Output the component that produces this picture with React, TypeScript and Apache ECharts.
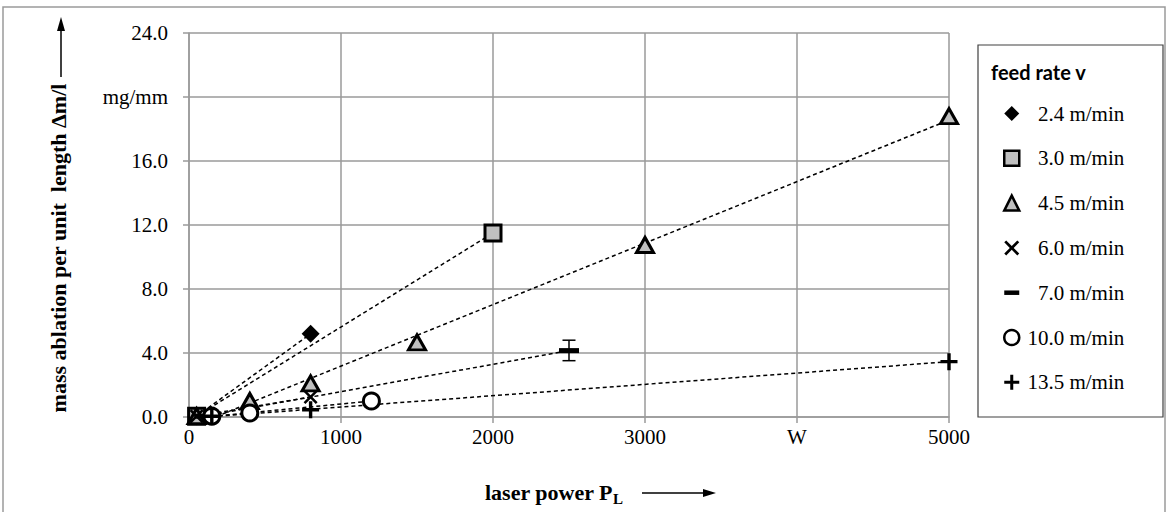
import React, { useEffect, useRef } from "react";
import * as echarts from "echarts";

// ---- data (laser power W, mass ablation mg/mm) ----
const seriesNames = ["2.4 m/min", "3.0 m/min", "4.5 m/min", "6.0 m/min", "7.0 m/min", "10.0 m/min", "13.5 m/min"];
const feed24: number[][] = [[50, 0.05], [800, 5.2]];
const feed30: number[][] = [[50, 0.05], [2000, 11.5]];
const feed45: number[][] = [[50, 0.05], [400, 1.0], [800, 2.1], [1500, 4.66], [3000, 10.75], [5000, 18.8]];
const feed60: number[][] = [[50, 0.05], [800, 1.25]];
const feed70: number[][] = [[100, 0.05], [2500, 4.15]];
const feed100: number[][] = [[150, 0.05], [400, 0.25], [1200, 1.0]];
const feed135: number[][] = [[150, 0.05], [800, 0.45], [5000, 3.46]];
const errorBar70: number[][] = [[2500, 3.52, 4.8]];

const xTickLabels = ["0", "1000", "2000", "3000", "W", "5000"];
const yTickLabels = ["0.0", "4.0", "8.0", "12.0", "16.0", "mg/mm", "24.0"];

const SERIF = "'Liberation Serif', 'Times New Roman', serif";
const GRAY = "#9a9a9a";

function trend(points: number[][]): number[][] {
  const n = points.length;
  let sx = 0, sy = 0, sxx = 0, sxy = 0;
  for (const [x, y] of points) { sx += x; sy += y; sxx += x * x; sxy += x * y; }
  const b = (n * sxy - sx * sy) / (n * sxx - sx * sx);
  const a = (sy - b * sx) / n;
  const xs = points.map((p) => p[0]);
  const x0 = Math.min(...xs), x1 = Math.max(...xs);
  return [[x0, a + b * x0], [x1, a + b * x1]];
}

const X_PATH = "path://M0,1.3L1.3,0L5,3.7L8.7,0L10,1.3L6.3,5L10,8.7L8.7,10L5,6.3L1.3,10L0,8.7L3.7,5Z";
const PLUS_PATH = "path://M4,0H6V4H10V6H6V10H4V6H0V4H4Z";
const DASH_PATH = "path://M0,0H20V6H0Z";

export default function App() {
  const ref = useRef<HTMLDivElement>(null);
  useEffect(() => {
    if (!ref.current) return;
    const chart = echarts.init(ref.current, undefined, { renderer: "svg" });
    const datasets = [feed24, feed30, feed45, feed60, feed70, feed100, feed135];
    const markers: any[] = [
      { symbol: "diamond", symbolSize: 18, itemStyle: { color: "#000", borderWidth: 0, opacity: 1 } },
      { symbol: "rect", symbolSize: 16, itemStyle: { color: "#c0c0c0", borderColor: "#000", borderWidth: 3, opacity: 1 } },
      { symbol: "triangle", symbolSize: [17, 15], itemStyle: { color: "#c0c0c0", borderColor: "#000", borderWidth: 3, opacity: 1 } },
      { symbol: X_PATH, symbolSize: 14, itemStyle: { color: "#000", borderWidth: 0, opacity: 1 } },
      { symbol: DASH_PATH, symbolSize: [20, 5], itemStyle: { color: "#000", borderWidth: 0, opacity: 1 } },
      { symbol: "circle", symbolSize: 16, itemStyle: { color: "#fff", borderColor: "#000", borderWidth: 3, opacity: 1 } },
      { symbol: PLUS_PATH, symbolSize: 17, itemStyle: { color: "#000", borderWidth: 0, opacity: 1 } },
    ];
    const trendSeries = datasets.map((d, i) => ({
      type: "line",
      name: "trend " + seriesNames[i],
      data: trend(d),
      symbol: "none",
      z: 1,
      lineStyle: { color: "#000", width: 1.5, type: [4, 3] },
      silent: true,
    }));
    const scatterSeries = datasets.map((d, i) => ({
      type: "scatter",
      name: seriesNames[i],
      data: d,
      z: 4,
      ...markers[i],
    }));
    const errSeries = {
      type: "custom",
      name: "error 7.0",
      z: 3,
      data: errorBar70,
      renderItem: (_params: any, api: any) => {
        const x = api.value(0);
        const lo = api.coord([x, api.value(1)]);
        const hi = api.coord([x, api.value(2)]);
        const st = { stroke: "#000", lineWidth: 1.5 };
        const w = 6.5;
        return {
          type: "group",
          children: [
            { type: "line", shape: { x1: lo[0], y1: lo[1], x2: hi[0], y2: hi[1] }, style: st },
            { type: "line", shape: { x1: lo[0] - w, y1: lo[1], x2: lo[0] + w, y2: lo[1] }, style: st },
            { type: "line", shape: { x1: hi[0] - w, y1: hi[1], x2: hi[0] + w, y2: hi[1] }, style: st },
          ],
        };
      },
    };

    const option: any = {
      animation: false,
      backgroundColor: "#fff",
      grid: { left: 189, top: 33, width: 760, height: 384 },
      title: {
        text: "feed rate v",
        left: 991,
        top: 62,
        padding: 0,
        textStyle: { fontFamily: "Lato, 'Open Sans', sans-serif", fontWeight: "bold", fontSize: 20, color: "#000" },
      },
      legend: {
        data: seriesNames,
        orient: "vertical",
        left: 1003,
        top: 103,
        itemWidth: 15,
        itemHeight: 15,
        itemGap: 23.8,
        padding: 0,
        selectedMode: false,
        itemStyle: { borderWidth: 2.5 },
        formatter: (name: string) => "{t|" + name + "}",
        textStyle: {
          rich: {
            t: { width: 100, align: "right", fontFamily: SERIF, fontSize: 21, lineHeight: 22, color: "#000" },
          },
        },
      },
      xAxis: {
        type: "value",
        min: 0,
        max: 5000,
        interval: 1000,
        axisLine: { show: true, lineStyle: { color: GRAY, width: 1.5 } },
        axisTick: { show: true, length: 6, lineStyle: { color: GRAY, width: 1.5 } },
        splitLine: { show: true, lineStyle: { color: GRAY, width: 1.5 } },
        axisLabel: {
          margin: 9,
          fontFamily: SERIF,
          fontSize: 21,
          color: "#000",
          formatter: (v: number) => xTickLabels[Math.round(v / 1000)] ?? "",
        },
      },
      yAxis: {
        type: "value",
        min: 0,
        max: 24,
        interval: 4,
        axisLine: { show: true, lineStyle: { color: GRAY, width: 1.5 } },
        axisTick: { show: true, length: 6, lineStyle: { color: GRAY, width: 1.5 } },
        splitLine: { show: true, lineStyle: { color: GRAY, width: 1.5 } },
        axisLabel: {
          margin: 21,
          fontFamily: SERIF,
          fontSize: 21,
          color: "#000",
          formatter: (v: number) => yTickLabels[Math.round(v / 4)] ?? "",
        },
      },
      graphic: [
        { type: "rect", shape: { x: 3, y: 7, width: 1162, height: 530 }, style: { fill: "none", stroke: GRAY, lineWidth: 1.5 }, z: -10 },
        { type: "rect", shape: { x: 978, y: 45, width: 185, height: 372 }, style: { fill: "none", stroke: "#404040", lineWidth: 1.2 }, z: 0 },
        {
          type: "text",
          x: 58,
          y: 248,
          rotation: Math.PI / 2,
          style: {
            text: "mass ablation per unit  length Δm/l",
            font: "bold 22px " + SERIF,
            fill: "#000",
            align: "center",
            verticalAlign: "middle",
          },
        },
        { type: "line", shape: { x1: 61, y1: 77, x2: 61, y2: 28 }, style: { stroke: "#000", lineWidth: 1.5 } },
        { type: "polygon", shape: { points: [[61, 17], [57, 31], [65, 31]] }, style: { fill: "#000" } },
        {
          type: "text",
          x: 485,
          y: 492,
          style: { text: "laser power P", font: "bold 22px " + SERIF, fill: "#000", align: "left", verticalAlign: "middle" },
        },
        {
          type: "text",
          x: 613,
          y: 499,
          style: { text: "L", font: "bold 15px " + SERIF, fill: "#000", align: "left", verticalAlign: "middle" },
        },
        { type: "line", shape: { x1: 642, y1: 493, x2: 706, y2: 493 }, style: { stroke: "#000", lineWidth: 1.5 } },
        { type: "polygon", shape: { points: [[716, 493], [703, 489], [703, 497]] }, style: { fill: "#000" } },
      ],
      series: [...trendSeries, errSeries, ...scatterSeries],
    };
    chart.setOption(option);
    return () => chart.dispose();
  }, []);
  return <div ref={ref} style={{ position: "absolute", left: 0, top: 0, width: 1169, height: 512 }} />;
}
